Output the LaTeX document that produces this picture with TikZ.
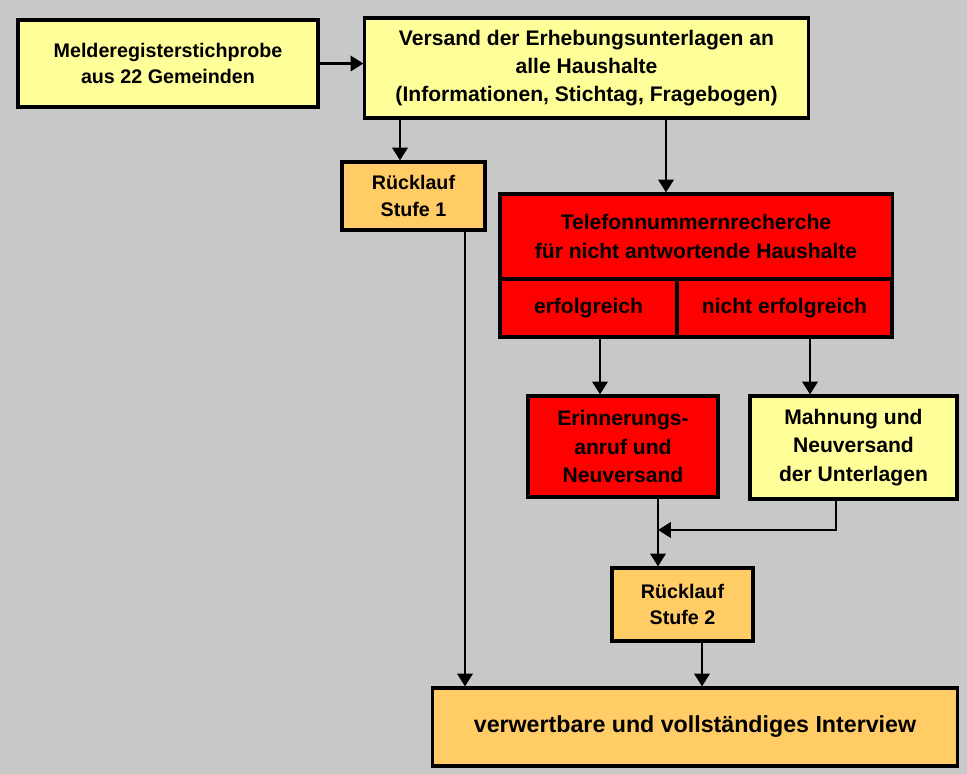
\documentclass[tikz,border=0pt]{standalone}
\usepackage{fontspec}
\setmainfont{Liberation Sans}
\usepackage{tikz}
\usetikzlibrary{arrows.meta, positioning}
\definecolor{bggray}{RGB}{200,200,200}
\definecolor{paleyellow}{RGB}{255,255,153}
\definecolor{paleorange}{RGB}{255,204,102}
\definecolor{alarmred}{RGB}{255,0,0}
\tikzset{
  box/.style={draw=black, line width=2.2pt, rectangle, align=center, inner sep=0pt,
    font=\fontsize{15}{20}\selectfont\bfseries},
  smalltext/.style={font=\fontsize{14}{19}\selectfont\bfseries},
  yellowbox/.style={box, fill=paleyellow},
  orangebox/.style={box, fill=paleorange},
  redbox/.style={box, fill=alarmred},
  arr/.style={line width=2pt, -{Triangle[width=0.38cm, length=0.32cm]}}
}

\begin{document}
\begin{tikzpicture}[x=0.025cm, y=-0.025cm]
    % background
    \fill[bggray] (0,0) rectangle (967,774);
    \useasboundingbox (0,0) rectangle (967,774);

    \node[yellowbox, smalltext, minimum width=7.5cm, minimum height=2.175cm] (sample) at (168,63.5)
      {Melderegisterstichprobe\\aus 22 Gemeinden};
    \node[yellowbox, minimum width=11.075cm, minimum height=2.5cm] (mailing) at (586.5,68)
      {Versand der Erhebungsunterlagen an\\alle Haushalte\\(Informationen, Stichtag, Fragebogen)};
    \node[orangebox, smalltext, minimum width=3.575cm, minimum height=1.7cm] (return1) at (413.5,196)
      {Rücklauf\\Stufe 1};

    % phone search block
    \node[redbox, minimum width=9.8cm, minimum height=2.125cm] (phone) at (696,236.5)
      {Telefonnummernrecherche\\für nicht antwortende Haushalte};
    \node[redbox, minimum width=4.425cm, minimum height=1.45cm] (success) at (588.5,308)
      {erfolgreich};
    \node[redbox, minimum width=5.375cm, minimum height=1.45cm] (fail) at (784.5,308)
      {nicht erfolgreich};

    \node[redbox, minimum width=4.75cm, minimum height=2.525cm] (reminder) at (623,446.5)
      {Erinnerungs-\\anruf und\\Neuversand};
    \node[yellowbox, minimum width=5.175cm, minimum height=2.575cm] (dunning) at (853.5,447.5)
      {Mahnung und\\Neuversand\\der Unterlagen};
    \node[orangebox, smalltext, minimum width=3.525cm, minimum height=1.825cm] (return2) at (682.5,604.5)
      {Rücklauf\\Stufe 2};
    \node[orangebox, font=\fontsize{16.5}{20}\selectfont\bfseries, minimum width=13.1cm,
      minimum height=1.95cm] (result) at (695,727)
      {verwertbare und vollständiges Interview};

    % connectors
    \draw[arr] (sample.east) -- (mailing.west |- sample.east);
    \draw[arr] (mailing.south -| 400,0) -- (return1.north -| 400,0);
    \draw[arr] (mailing.south -| 666,0) -- (phone.north -| 666,0);
    \draw[arr] (return1.south -| 465,0) -- (result.north -| 465,0);
    \draw[arr] (success.south -| 600,0) -- (reminder.north -| 600,0);
    \draw[arr] (fail.south -| 810,0) -- (dunning.north -| 810,0);
    \draw[arr] (reminder.south -| 658,0) -- (return2.north -| 658,0);
    \coordinate (merge) at (658,530);
    \draw[arr] (dunning.south -| 836,0) |- (merge);
    \draw[arr] (return2.south -| 702,0) -- (result.north -| 702,0);
\end{tikzpicture}
\end{document}
